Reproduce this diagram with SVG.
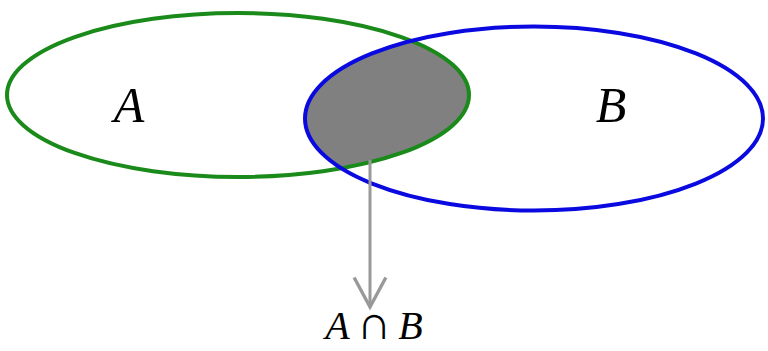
<svg xmlns="http://www.w3.org/2000/svg" width="768" height="351" viewBox="0 0 768 351">
<style>
.lbl{font-family:"Liberation Serif","Times New Roman",serif;font-style:italic;fill:#000}
.conn{stroke:#999;stroke-width:3;fill:none}
</style>
<defs>
<clipPath id="clipA"><ellipse cx="238" cy="95" rx="231" ry="82"/></clipPath>
<marker id="arr" markerUnits="userSpaceOnUse" markerWidth="34" markerHeight="34" refX="27" refY="15" orient="auto" viewBox="0 0 30 30" overflow="visible">
<path d="M1,1 L27,15 L1,29" fill="none" stroke="#999" stroke-width="3"/>
</marker>
</defs>
<rect width="768" height="351" fill="#fff"/>
<g id="intersection">
<ellipse cx="534" cy="118.5" rx="229" ry="92" fill="#808080" clip-path="url(#clipA)"/>
</g>
<g id="A">
<ellipse cx="238" cy="95" rx="231" ry="82" fill="none" stroke="#1a8a1a" stroke-width="4"/>
<text class="lbl" x="129" y="122" font-size="50" text-anchor="middle">A</text>
</g>
<g id="B">
<ellipse cx="534" cy="118.5" rx="229" ry="92" fill="none" stroke="#0a0ae0" stroke-width="4"/>
<text class="lbl" x="611" y="122" font-size="50" text-anchor="middle">B</text>
</g>
<g id="connectors">
<line class="conn" x1="370" y1="160" x2="370" y2="307" marker-end="url(#arr)"/>
</g>
<g id="label-AB">
<text class="lbl" x="374" y="339" font-size="40" text-anchor="middle">A<tspan font-style="normal" font-size="48" dx="7">∩</tspan><tspan dx="7">B</tspan></text>
</g>
</svg>
